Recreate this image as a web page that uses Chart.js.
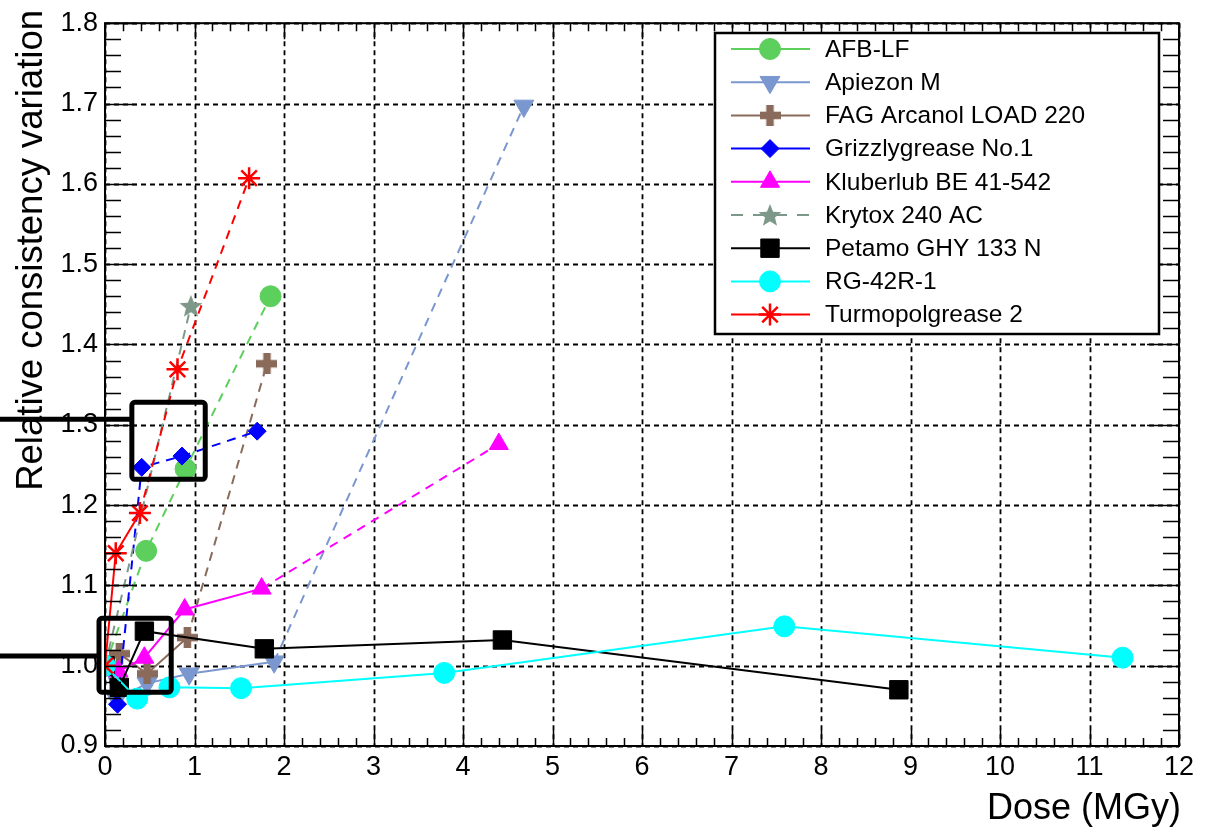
<!DOCTYPE html>
<html>
<head>
<meta charset="utf-8">
<script src="https://cdn.jsdelivr.net/npm/chart.js@4"></script>
<style>
  html, body { margin: 0; padding: 0; background: #fff; }
  #wrap { width: 1211px; height: 831px; }
</style>
</head>
<body>
<div id="wrap"><canvas id="myChart" width="1211" height="831"></canvas></div>
<script>
// values
const names = ['AFB-LF', 'Apiezon M', 'FAG Arcanol LOAD 220', 'Grizzlygrease No.1', 'Kluberlub BE 41-542',
  'Krytox 240 AC', 'Petamo GHY 133 N', 'RG-42R-1', 'Turmopolgrease 2']

const afbDose = [0, 0.46, 0.90, 1.85]
const afbVal = [1.0, 1.143, 1.245, 1.46]
const apiezonDose = [0, 0.13, 0.47, 0.94, 1.89, 4.68]
const apiezonVal = [1.0, 0.958, 0.978, 0.99, 1.005, 1.697]
const fagDose = [0, 0.16, 0.47, 0.92, 1.81]
const fagVal = [1.0, 1.015, 0.99, 1.035, 1.376]
const grizzlyDose = [0, 0.14, 0.41, 0.86, 1.70]
const grizzlyVal = [1.0, 0.952, 1.247, 1.261, 1.292]
const kluberDose = [0, 0.15, 0.44, 0.89, 1.75, 4.40]
const kluberVal = [1.0, 0.993, 1.01, 1.07, 1.096, 1.276]
const krytoxDose = [0, 0.96]
const krytoxVal = [1.0, 1.448]
const petamoDose = [0, 0.16, 0.44, 1.78, 4.44, 8.87]
const petamoVal = [1.0, 0.973, 1.043, 1.021, 1.032, 0.97]
const rgDose = [0, 0.36, 0.72, 1.52, 3.79, 7.59, 11.37]
const rgVal = [1.0, 0.959, 0.973, 0.972, 0.991, 1.049, 1.01]
const turmoDose = [0, 0.12, 0.39, 0.81, 1.61]
const turmoVal = [1.0, 1.14, 1.19, 1.369, 1.607]

const xTicks = [0, 1, 2, 3, 4, 5, 6, 7, 8, 9, 10, 11, 12]
const yTicks = [0.9, 1.0, 1.1, 1.2, 1.3, 1.4, 1.5, 1.6, 1.7, 1.8]

const doses = [afbDose, apiezonDose, fagDose, grizzlyDose, kluberDose, krytoxDose, petamoDose, rgDose, turmoDose]
const vals = [afbVal, apiezonVal, fagVal, grizzlyVal, kluberVal, krytoxVal, petamoVal, rgVal, turmoVal]
const colors = ['#5ccf5c', '#7b97cf', '#8a6a5a', '#0000ff', '#ff00ff', '#7d9888', '#000000', '#00ffff', '#ff0000']
// segment index from which the line is dashed
const dashFrom = [0, 4, 3, 0, 4, 0, 99, 99, 2]

function makePlus(color, size) {
    var c = document.createElement('canvas')
    c.width = size; c.height = size
    var g = c.getContext('2d')
    g.fillStyle = color
    var t = size * 0.36
    g.fillRect((size - t) / 2, 0, t, size)
    g.fillRect(0, (size - t) / 2, size, t)
    return c
}

function makeStar(color, size) {
    var c = document.createElement('canvas')
    c.width = size; c.height = size
    var g = c.getContext('2d')
    g.fillStyle = color
    g.beginPath()
    for (var i = 0; i < 10; i++) {
        var r = i % 2 == 0 ? size / 2 : size / 4.6
        var a = -Math.PI / 2 + i * Math.PI / 5
        var px = size / 2 + r * Math.cos(a)
        var py = size / 2 + 1 + r * Math.sin(a)
        if (i == 0) g.moveTo(px, py); else g.lineTo(px, py)
    }
    g.closePath()
    g.fill()
    return c
}

const markers = [
    { pointStyle: 'circle', radius: 10.5, rotation: 0 },
    { pointStyle: 'triangle', radius: 11.5, rotation: 180 },
    { pointStyle: makePlus(colors[2], 21), radius: 10, rotation: 0 },
    { pointStyle: 'rectRot', radius: 9, rotation: 0 },
    { pointStyle: 'triangle', radius: 11, rotation: 0 },
    { pointStyle: makeStar(colors[5], 24), radius: 12, rotation: 0 },
    { pointStyle: 'rect', radius: 13, rotation: 0 },
    { pointStyle: 'circle', radius: 10.5, rotation: 0 },
    { pointStyle: 'star', radius: 11, rotation: 0 }
]

const datasets = names.map(function (name, i) {
    return {
        label: name,
        data: doses[i].map(function (d, k) { return { x: d, y: vals[i][k] } }),
        showLine: true,
        borderColor: colors[i],
        backgroundColor: colors[i],
        borderWidth: 2,
        pointStyle: markers[i].pointStyle,
        pointRadius: markers[i].radius,
        pointHoverRadius: markers[i].radius,
        pointRotation: markers[i].rotation,
        pointBorderWidth: i == 8 ? 2.5 : 1,
        pointBackgroundColor: colors[i],
        pointBorderColor: colors[i],
        order: names.length - i,
        segment: {
            borderDash: function (ctx) { return ctx.p0DataIndex >= dashFrom[i] ? [9, 7] : undefined }
        }
    }
})

// ROOT-like frame, dashed grid, inward ticks, legend, titles and the two marker boxes
const rootStyle = {
    id: 'rootStyle',
    beforeDatasetsDraw(chart) {
        const ctx = chart.ctx, a = chart.chartArea
        const xs = chart.scales.x, ys = chart.scales.y
        ctx.save()
        ctx.strokeStyle = '#000'
        ctx.lineWidth = 1.8
        ctx.setLineDash([5, 4])
        xTicks.forEach(function (v) {
            const px = Math.round(xs.getPixelForValue(v)) + 0.5
            ctx.beginPath(); ctx.moveTo(px, a.top); ctx.lineTo(px, a.bottom); ctx.stroke()
        })
        yTicks.forEach(function (v) {
            const py = Math.round(ys.getPixelForValue(v)) + 0.5
            ctx.beginPath(); ctx.moveTo(a.left, py); ctx.lineTo(a.right, py); ctx.stroke()
        })
        ctx.restore()
    },
    afterDatasetsDraw(chart) {
        const ctx = chart.ctx, a = chart.chartArea
        const xs = chart.scales.x, ys = chart.scales.y
        ctx.save()
        ctx.strokeStyle = '#000'
        ctx.lineWidth = 1.5
        // x ticks, bottom and top
        for (let k = 0; k <= 60; k++) {
            const v = k * 0.2
            const px = Math.round(xs.getPixelForValue(v)) + 0.5
            const len = k % 5 == 0 ? 16 : 8
            ctx.beginPath()
            ctx.moveTo(px, a.bottom); ctx.lineTo(px, a.bottom - len)
            ctx.moveTo(px, a.top); ctx.lineTo(px, a.top + len)
            ctx.stroke()
        }
        // y ticks, left and right
        for (let k = 0; k <= 45; k++) {
            const v = 0.9 + k * 0.02
            const py = Math.round(ys.getPixelForValue(v)) + 0.5
            const len = k % 5 == 0 ? 32 : 16
            ctx.beginPath()
            ctx.moveTo(a.left, py); ctx.lineTo(a.left + len, py)
            ctx.moveTo(a.right, py); ctx.lineTo(a.right - len, py)
            ctx.stroke()
        }
        ctx.lineWidth = 2
        ctx.strokeRect(a.left, a.top, a.right - a.left, a.bottom - a.top)

        // legend
        const lx = 715, ly = 33, lw = 444, lh = 301
        ctx.fillStyle = '#fff'
        ctx.fillRect(lx, ly, lw, lh)
        ctx.lineWidth = 2.5
        ctx.strokeRect(lx, ly, lw, lh)
        ctx.font = '24.5px "Liberation Sans", Arial, sans-serif'
        ctx.textBaseline = 'middle'
        ctx.textAlign = 'left'
        for (let i = 0; i < names.length; i++) {
            const ry = 49 + i * 33.2
            ctx.save()
            ctx.strokeStyle = colors[i]
            ctx.lineWidth = 2
            ctx.setLineDash(i == 5 ? [12, 10] : [])
            ctx.beginPath(); ctx.moveTo(731, ry); ctx.lineTo(810, ry); ctx.stroke()
            ctx.restore()
            ctx.save()
            ctx.fillStyle = colors[i]
            ctx.strokeStyle = colors[i]
            ctx.lineWidth = i == 8 ? 2.5 : 1
            Chart.helpers.drawPoint(ctx, {
                pointStyle: markers[i].pointStyle,
                radius: markers[i].radius,
                rotation: markers[i].rotation,
                borderWidth: i == 8 ? 2.5 : 1
            }, 770, ry)
            ctx.restore()
            ctx.fillStyle = '#000'
            ctx.fillText(names[i], 825, ry + 1)
        }

        // axis titles
        ctx.fillStyle = '#000'
        ctx.font = '36px "Liberation Sans", Arial, sans-serif'
        ctx.textAlign = 'right'
        ctx.textBaseline = 'middle'
        ctx.fillText('Dose (MGy)', 1181, 809)
        ctx.save()
        ctx.translate(32, 10)
        ctx.rotate(-Math.PI / 2)
        ctx.font = '36.5px "Liberation Sans", Arial, sans-serif'
        ctx.fillText('Relative consistency variation', 0, 0)
        ctx.restore()

        // the two highlight boxes and their pointer lines
        ctx.strokeStyle = '#000'
        ctx.lineWidth = 5
        ctx.setLineDash([])
        const boxes = [[0.30, 1.12, 1.232, 1.328, 1.307], [-0.067, 0.74, 0.967, 1.059, 1.012]]
        boxes.forEach(function (b) {
            const x0 = xs.getPixelForValue(b[0]), x1 = xs.getPixelForValue(b[1])
            const y0 = ys.getPixelForValue(b[3]), y1 = ys.getPixelForValue(b[2])
            ctx.beginPath()
            ctx.roundRect ? ctx.roundRect(x0, y0, x1 - x0, y1 - y0, 3) : ctx.rect(x0, y0, x1 - x0, y1 - y0)
            ctx.stroke()
            const yl = ys.getPixelForValue(b[4])
            ctx.beginPath(); ctx.moveTo(0, yl); ctx.lineTo(x0, yl); ctx.stroke()
        })
        ctx.restore()
    }
}

const config = {
    type: 'scatter',
    data: { datasets: datasets },
    options: {
        responsive: false,
        animation: false,
        layout: { padding: { top: 17, right: 32, left: 0, bottom: 0 } },
        plugins: { legend: { display: false }, tooltip: { enabled: false } },
        scales: {
            x: {
                type: 'linear', min: 0, max: 12,
                afterFit: function (s) { s.height = 85 },
                afterBuildTicks: function (s) { s.ticks = xTicks.map(function (v) { return { value: v } }) },
                grid: { display: false, drawTicks: false },
                border: { display: false },
                ticks: {
                    color: '#000', padding: 5, maxRotation: 0, autoSkip: false,
                    font: { family: '"Liberation Sans", Arial, sans-serif', size: 27 }
                }
            },
            y: {
                type: 'linear', min: 0.9, max: 1.8,
                afterFit: function (s) { s.width = 105 },
                afterBuildTicks: function (s) { s.ticks = yTicks.map(function (v) { return { value: v } }) },
                grid: { display: false, drawTicks: false },
                border: { display: false },
                ticks: {
                    color: '#000', padding: 7, autoSkip: false,
                    font: { family: '"Liberation Sans", Arial, sans-serif', size: 27 },
                    callback: function (v) { return v.toFixed(1) }
                }
            }
        }
    },
    plugins: [rootStyle]
}

const myChart = new Chart(document.getElementById('myChart'), config)
</script>
</body>
</html>
